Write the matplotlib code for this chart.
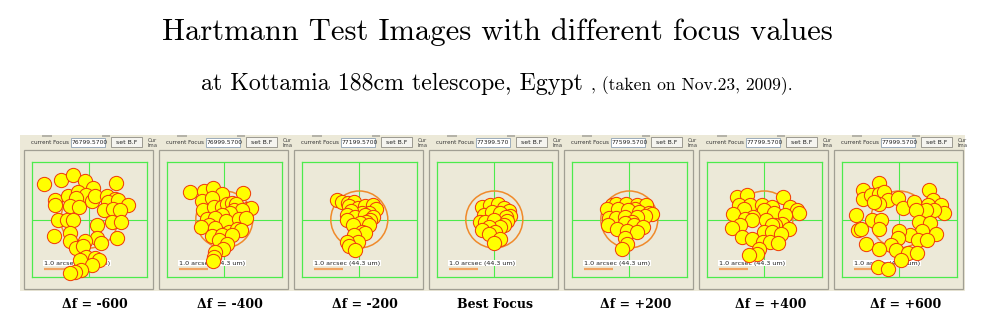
import numpy as np
import matplotlib.pyplot as plt
from matplotlib.patches import Rectangle, Circle

# focus offsets (microns) and the focus readout shown in each frame
delta_f = [-600, -400, -200, 0, 200, 400, 600]
focus_readout = ["76799.5700", "76999.5700", "77199.5700", "77399.570",
                 "77599.5700", "77799.5700", "77999.5700"]

# Hartmann spot centres, offset from the field centre in screen pixels (x right, y down)
spots_m600 = np.array([
    (-45.3, -35.3), (-28.3, -39.3), (-16.0, -45.0), (-4.0, -38.3), (26.3, -36.7),
    (3.3, -31.7), (-34.3, -20.0), (-34.7, -14.3), (-21.0, -23.3), (-11.0, -27.7),
    (-3.0, -24.3), (-13.0, -21.7), (-19.3, -13.3), (-10.0, -12.7), (3.0, -18.3),
    (5.7, -23.3), (17.3, -23.3), (25.7, -21.0), (18.3, -17.7), (28.3, -20.0),
    (39.0, -15.0), (15.0, -9.3), (24.0, -11.0), (30.7, -9.3), (22.3, 2.3),
    (31.7, 2.3), (-31.0, 0.0), (-22.7, 0.0), (-16.0, 0.7), (7.3, 5.0),
    (-19.3, 13.0), (-35.0, 16.7), (-19.3, 21.7), (27.3, 18.0), (7.3, 18.3),
    (11.7, 23.0), (-4.3, 21.3), (-13.3, 28.3), (-6.0, 26.7), (-3.3, 37.3),
    (5.7, 38.0), (9.7, 40.7), (-9.3, 40.7), (2.3, 45.0), (-8.3, 50.7),
    (-14.3, 52.3), (-19.3, 53.3)])
spots_m400 = np.array([
    (-34.3, -27.3), (-20.7, -28.7), (-11.0, -31.7), (-2.3, -26.0), (19.0, -26.7),
    (-22.3, -18.3), (-12.3, -21.7), (-21.7, -9.3), (-10.7, -12.7), (-2.3, -12.7),
    (2.7, -16.0), (7.7, -17.0), (12.0, -16.0), (22.7, -11.0), (26.7, -12.0),
    (9.3, -9.3), (17.7, -9.3), (6.0, -7.0), (-2.3, -4.3), (-17.3, -1.0),
    (-9.0, -1.7), (2.0, 1.3), (14.3, -0.3), (22.0, -1.7), (-15.7, 5.0),
    (-23.3, 7.3), (-9.0, 8.3), (4.3, 12.3), (12.7, 9.7), (16.7, 10.7),
    (-12.3, 16.3), (-2.3, 15.7), (7.7, 15.0), (-5.0, 20.7), (2.7, 24.0),
    (-1.3, 29.7), (-9.0, 32.3), (-10.7, 37.3), (-11.7, 41.7)])
spots_m200 = np.array([
    (-22.3, -19.3), (-17.3, -17.7), (-11.3, -17.0), (-5.7, -17.7), (-10.7, -13.7),
    (-1.3, -11.7), (6.0, -13.3), (13.3, -14.3), (16.7, -10.3), (10.0, -7.0),
    (2.7, -7.0), (-8.0, -8.3), (-12.3, -5.0), (-4.0, -2.7), (6.0, -5.0),
    (13.3, -2.7), (11.0, 0.7), (-12.3, 0.7), (7.0, 2.3), (1.0, 3.0),
    (9.3, 5.7), (-6.3, 5.7), (2.7, 12.3), (6.0, 13.0), (-5.7, 15.7),
    (-1.3, 22.3), (-12.3, 22.3), (-10.0, 26.3), (-4.0, 30.7)])
spots_best = np.array([
    (-12.3, -12.3), (-4.0, -15.0), (3.3, -15.7), (9.3, -11.7), (14.3, -9.0),
    (-10.7, -4.7), (-2.3, -7.3), (6.0, -6.3), (16.0, -4.0), (12.0, -2.3),
    (-14.7, 2.7), (-9.0, 2.7), (0.0, 0.3), (12.7, 1.0), (10.0, 5.0),
    (5.3, 7.0), (-5.7, 7.7), (-12.3, 10.3), (1.0, 12.7), (-5.7, 14.3),
    (5.3, 19.3), (-0.7, 23.7)])
spots_p200 = np.array([
    (-17.3, -14.3), (-13.3, -16.0), (-3.3, -16.0), (7.7, -14.3), (16.7, -15.0),
    (6.0, -11.0), (-22.3, -10.3), (-11.3, -10.3), (-1.3, -9.3), (9.3, -7.7),
    (19.3, -7.0), (22.7, -6.0), (16.0, -3.7), (-20.7, -1.7), (-13.3, -1.7),
    (-4.0, -2.7), (7.7, -2.7), (2.7, 2.3), (-4.7, 3.0), (4.3, 5.0),
    (-21.3, 5.7), (13.3, 7.3), (-12.3, 9.0), (-2.3, 11.7), (7.7, 12.3),
    (-4.7, 18.3), (-2.3, 24.0), (-7.3, 29.7)])
spots_p400 = np.array([
    (-27.3, -22.7), (-17.3, -24.3), (18.7, -22.7), (-25.7, -14.3), (-14.0, -15.0),
    (-2.3, -15.0), (-20.7, -11.0), (7.7, -12.7), (25.3, -12.7), (32.7, -9.3),
    (34.3, -7.0), (-0.7, -9.3), (10.0, -7.0), (-31.3, -6.0), (21.0, -4.3),
    (-11.3, -2.7), (-19.0, -1.0), (-12.3, 0.7), (2.0, 0.7), (17.7, 4.0),
    (11.0, 5.0), (7.7, 5.7), (-24.0, 5.7), (-32.3, 8.3), (24.3, 9.0),
    (-0.7, 12.3), (7.7, 12.3), (16.7, 14.0), (-22.3, 17.3), (-12.3, 19.0),
    (-1.3, 22.3), (6.0, 22.3), (13.3, 23.0), (-5.7, 29.0), (-7.3, 34.0),
    (-15.7, 35.7)])
spots_p600 = np.array([
    (-20.7, -37.0), (-36.7, -29.3), (-36.7, -21.0), (-28.3, -24.3), (-20.7, -26.0),
    (-15.0, -27.7), (-11.7, -19.3), (-20.0, -16.0), (-25.0, -17.7), (-1.0, -22.0),
    (3.3, -12.0), (15.0, -17.7), (30.0, -30.0), (33.3, -20.0), (28.3, -15.0),
    (41.7, -15.0), (45.0, -6.7), (35.0, -9.3), (26.7, -9.3), (16.7, -10.0),
    (-43.3, -4.3), (-27.3, 0.7), (-18.3, 0.7), (-20.0, 9.0), (-41.7, 10.7),
    (-38.3, 9.0), (19.3, 2.3), (31.0, 3.0), (36.7, 14.0), (22.7, 11.7),
    (10.7, 15.7), (0.0, 11.3), (-1.7, 18.0), (18.3, 20.7), (27.3, 20.7),
    (-8.3, 25.7), (-3.3, 30.7), (8.3, 33.3), (17.3, 33.0), (-33.3, 24.7),
    (-20.0, 29.0), (1.7, 40.7), (-21.7, 47.3), (-11.7, 49.0)])
spot_sets = [spots_m600, spots_m400, spots_m200, spots_best,
             spots_p200, spots_p400, spots_p600]

ARCSEC_PX = 29.0          # 1.0 arcsec (44.3 um) on screen
REF_RADIUS = 28.5         # reference ring radius in pixels

W, H = 998, 329
BEIGE = '#ECE9D8'
GREEN = '#4CEB4C'

fig = plt.figure(figsize=(W / 100, H / 100), dpi=100)
bg = fig.add_axes([0, 0, 1, 1])
bg.set_xlim(0, W)
bg.set_ylim(H, 0)
bg.axis('off')

# titles
bg.text(497.5, 40, 'Hartmann Test Images with different focus values',
        ha='center', va='baseline', fontsize=22, family='cmr10')
bg.text(201, 90, 'at Kottamia 188cm telescope, Egypt',
        ha='left', va='baseline', fontsize=17.2, family='cmr10')
bg.text(591, 90, ', (taken on Nov.23, 2009).',
        ha='left', va='baseline', fontsize=12.7, family='cmr10')

pitch = 135
cx0, cy = 89.3, 219.5
half = 57.5

# screenshot strip
bg.add_patch(Rectangle((20, 134.5), pitch * 7, 156.5, fc=BEIGE, ec='none'))

for i, (df, readout, spots) in enumerate(zip(delta_f, focus_readout, spot_sets)):
    c = cx0 + pitch * i

    # window frame and controls
    bg.add_patch(Rectangle((c - 65.7, 150), 129.4, 139, fc=BEIGE, ec='#A19F93', lw=0.9))
    bg.add_patch(Rectangle((c - 47, 134.5), 10, 2, fc='#B5B3A8', ec='none'))
    bg.add_patch(Rectangle((c + 13, 134.5), 8, 2, fc='#B5B3A8', ec='none'))
    bg.text(c - 58, 142.3, 'current Focus', fontsize=4.1, ha='left', va='center',
            color='#333333')
    bg.add_patch(Rectangle((c - 18, 137.5), 34, 9.5, fc='white', ec='#8CA0B4', lw=0.6))
    bg.text(c - 17.4, 142.3, readout, fontsize=4.3, ha='left', va='center',
            color='#222222')
    bg.add_patch(Rectangle((c + 22, 137.3), 31, 9.8, fc='#F5F4EF', ec='#8E8D84', lw=0.6))
    bg.text(c + 37.5, 142.3, 'set B.F', fontsize=4.4, ha='center', va='center',
            color='#222222')
    bg.text(c + 58, 142.8, 'Cur\nIma', fontsize=3.8, ha='left', va='center',
            linespacing=1.1, color='#444444')

    # spot diagram
    ax = fig.add_axes([(c - half) / W, (H - (cy + half)) / H, 2 * half / W, 2 * half / H])
    ax.set_xlim(-half, half)
    ax.set_ylim(half, -half)
    ax.set_facecolor('none')
    ax.set_xticks([])
    ax.set_yticks([])
    for sp in ax.spines.values():
        sp.set_color(GREEN)
        sp.set_linewidth(0.9)
    ax.axhline(0, color=GREEN, lw=0.8, zorder=1)
    ax.axvline(0, color=GREEN, lw=0.8, zorder=1)
    ax.add_patch(Circle((0, 0), REF_RADIUS, fill=False, ec='#F08A2A', lw=1.1, zorder=2))

    ax.text(-45.5, 43.5, '1.0 arcsec (44.3 um)', fontsize=4.6, ha='left', va='center',
            color='#222222', zorder=3,
            bbox=dict(fc='white', ec='none', pad=0.5))
    ax.plot([-45.7, -45.7 + ARCSEC_PX], [49.8, 49.8], color='#F2A460', lw=1.6,
            solid_capstyle='butt', zorder=3)

    ax.scatter(spots[:, 0], spots[:, 1], s=105, fc='#FFFF00', ec='#F0400C',
               lw=0.75, zorder=5, clip_on=False)

    label = 'Best Focus' if df == 0 else f'\u0394f = {df:+d}' if df > 0 else f'\u0394f = {df:d}'
    bg.text(c + (1 if df == 0 else 6), 304, label, ha='center', va='center',
            fontsize=9, fontweight='bold', family='DejaVu Serif')

fig.savefig('out.png', dpi=100)
